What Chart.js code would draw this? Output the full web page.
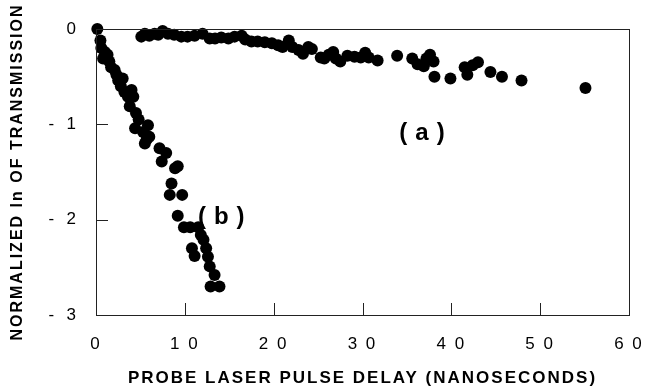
<!DOCTYPE html>
<html lang="en">
<head>
  <meta charset="UTF-8">
  <title>Normalized ln of transmission vs probe delay</title>
  <script src="https://cdn.jsdelivr.net/npm/chart.js"></script>
  <style>
    html, body { margin: 0; padding: 0; background: #fff; }
    #wrap { width: 645px; height: 389px; }
  </style>
</head>
<body>
  <div id="wrap"><canvas id="delayChart" width="645" height="389"></canvas></div>

  <script>
    // Serie (a): [delay ns, normalized ln T]
    const seriesA = [
      [5.1, -0.08], [5.5, -0.05], [6.0, -0.07], [6.6, -0.05], [7.0, -0.06], [7.5, -0.02],
      [8.1, -0.05], [8.8, -0.06], [9.6, -0.08], [10.3, -0.08], [11.1, -0.07], [12.0, -0.05],
      [12.8, -0.10], [13.4, -0.10], [14.1, -0.09], [14.9, -0.10], [15.6, -0.08], [16.4, -0.07],
      [16.8, -0.11], [17.5, -0.13], [18.2, -0.13], [19.0, -0.14], [19.8, -0.15], [20.5, -0.17],
      [21.0, -0.19], [21.7, -0.12], [22.1, -0.19], [22.8, -0.22], [23.3, -0.26], [23.9, -0.19],
      [24.3, -0.21], [25.3, -0.30], [25.7, -0.31], [26.2, -0.27], [26.7, -0.24], [27.0, -0.31],
      [27.5, -0.34], [28.3, -0.28], [29.1, -0.29], [29.8, -0.30], [30.3, -0.25], [30.7, -0.30],
      [31.7, -0.33], [33.9, -0.28], [35.6, -0.31], [36.2, -0.37], [36.9, -0.39], [37.2, -0.31],
      [37.6, -0.27], [38.0, -0.34], [38.1, -0.50], [39.9, -0.52], [41.5, -0.40], [41.8, -0.48],
      [42.4, -0.38], [43.0, -0.35], [44.4, -0.45], [45.7, -0.50], [47.9, -0.54], [55.1, -0.62]
    ];

    // Serie (b)
    const seriesB = [
      [0.15, 0.0], [0.5, -0.12], [0.6, -0.20], [1.0, -0.24], [0.8, -0.31], [1.3, -0.27],
      [1.5, -0.34], [1.7, -0.40], [2.1, -0.43], [2.3, -0.48], [2.5, -0.54], [3.0, -0.52],
      [2.8, -0.60], [3.2, -0.66], [4.0, -0.64], [3.6, -0.71], [4.2, -0.71], [3.8, -0.81],
      [4.5, -0.88], [4.8, -0.95], [5.85, -1.01], [4.4, -1.04], [5.3, -1.08], [6.0, -1.13],
      [5.5, -1.20], [5.7, -1.16], [7.15, -1.25], [7.9, -1.30], [7.4, -1.39], [8.9, -1.46],
      [9.2, -1.44], [8.5, -1.62], [8.3, -1.74], [9.7, -1.74], [9.2, -1.96], [9.9, -2.08],
      [10.6, -2.08], [11.5, -2.08], [11.8, -2.16], [12.1, -2.21], [10.8, -2.30], [12.4, -2.30],
      [11.1, -2.38], [12.6, -2.39], [12.8, -2.49], [13.35, -2.58], [12.9, -2.70], [13.9, -2.70]
    ];

    const xTicks = [0, 10, 20, 30, 40, 50, 60];
    const yTicks = [0, -1, -2, -3];

    // label anchors in data units
    const seriesLabels = [
      { text: '(a)', x: 36.7, y: -1.09 },
      { text: '(b)', x: 14.1, y: -1.98 }
    ];

    const toPoints = arr => arr.map(p => ({ x: p[0], y: p[1] }));

    // рамка, внутренние засечки и подписи серий
    const framePlugin = {
      id: 'frame',
      beforeDraw(chart) {
        chart.ctx.letterSpacing = '2px';
      },
      afterDatasetsDraw(chart) {
        const { ctx, chartArea: a, scales } = chart;
        ctx.save();
        ctx.strokeStyle = '#222';
        ctx.lineWidth = 1;
        ctx.strokeRect(a.left + 0.5, a.top + 0.5, a.right - a.left, a.bottom - a.top);
        ctx.beginPath();
        xTicks.slice(1, -1).forEach(v => {
          const px = Math.round(scales.x.getPixelForValue(v)) + 0.5;
          ctx.moveTo(px, a.bottom);
          ctx.lineTo(px, a.bottom - 12);
        });
        yTicks.slice(1, -1).forEach(v => {
          const py = Math.round(scales.y.getPixelForValue(v)) + 0.5;
          ctx.moveTo(a.left, py);
          ctx.lineTo(a.left + 12, py);
        });
        ctx.stroke();

        ctx.fillStyle = '#000';
        ctx.font = 'bold 24px "Liberation Sans", Arial, sans-serif';
        ctx.letterSpacing = '8px';
        ctx.textAlign = 'center';
        ctx.textBaseline = 'middle';
        seriesLabels.forEach(l => {
          ctx.fillText(l.text, scales.x.getPixelForValue(l.x) + 4, scales.y.getPixelForValue(l.y));
        });
        ctx.restore();
      }
    };

    new Chart(document.getElementById('delayChart'), {
      type: 'scatter',
      data: {
        datasets: [
          { label: '(a)', data: toPoints(seriesA), backgroundColor: '#000', borderWidth: 0, pointRadius: 6, clip: false },
          { label: '(b)', data: toPoints(seriesB), backgroundColor: '#000', borderWidth: 0, pointRadius: 6, clip: false }
        ]
      },
      options: {
        responsive: false,
        animation: false,
        layout: { padding: { top: 29, right: 16, left: 0, bottom: 0 } },
        plugins: { legend: { display: false }, tooltip: { enabled: false } },
        scales: {
          x: {
            type: 'linear',
            min: 0, max: 60,
            afterBuildTicks: s => { s.ticks = xTicks.map(v => ({ value: v })); },
            afterFit: s => { s.height = 74; s.paddingLeft = 0; s.paddingRight = 0; },
            grid: { display: false },
            border: { display: false },
            ticks: {
              padding: 11,
              color: '#000',
              maxRotation: 0,
              font: { family: '"Liberation Sans", Arial, sans-serif', size: 17 },
              callback: v => String(v).split('').join(' ')
            },
            title: {
              display: true,
              text: 'PROBE LASER PULSE DELAY (NANOSECONDS)',
              color: '#000',
              font: { family: '"Liberation Sans", Arial, sans-serif', size: 17, weight: 'bold' },
              padding: { top: 0, bottom: 0 }
            }
          },
          y: {
            type: 'linear',
            min: -3, max: 0,
            afterBuildTicks: s => { s.ticks = yTicks.map(v => ({ value: v })); },
            afterFit: s => { s.width = 96; s.paddingTop = 0; s.paddingBottom = 0; },
            grid: { display: false },
            border: { display: false },
            ticks: {
              padding: 10,
              color: '#000',
              font: { family: '"Liberation Sans", Arial, sans-serif', size: 17 },
              callback: v => v === 0 ? '0' : '-\u2002' + Math.abs(v)
            },
            title: {
              display: true,
              text: 'NORMALIZED ln OF TRANSMISSION',
              color: '#000',
              font: { family: '"Liberation Sans", Arial, sans-serif', size: 16, weight: 'bold' },
              padding: { top: 8, bottom: 0 }
            }
          }
        }
      },
      plugins: [framePlugin]
    });
  </script>
</body>
</html>
